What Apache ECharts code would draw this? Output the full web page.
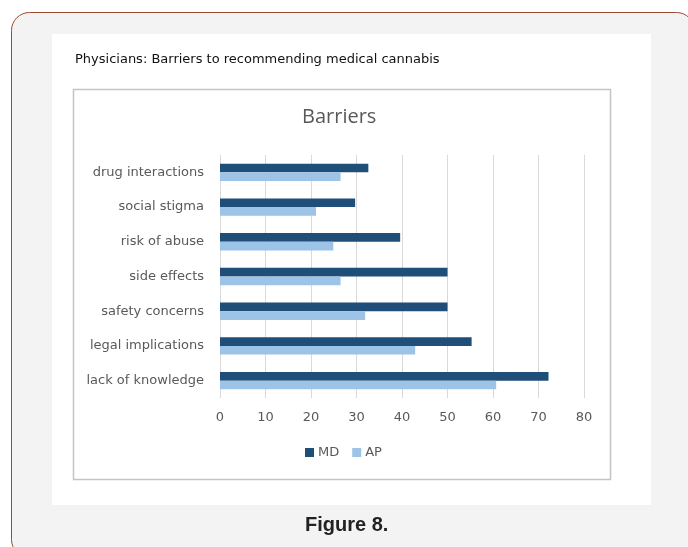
<!DOCTYPE html>
<html>
<head>
<meta charset="utf-8">
<script src="https://cdn.jsdelivr.net/npm/echarts@6/dist/echarts.min.js"></script>
<style>
  html, body { margin: 0; padding: 0; background: #ffffff; }
  #chart { width: 688px; height: 547px; }
</style>
</head>
<body>
<div id="chart"></div>
<script>
// Barriers to recommending medical cannabis (percent of respondents)
const categories = [
  'lack of knowledge',
  'legal implications',
  'safety concerns',
  'side effects',
  'risk of abuse',
  'social stigma',
  'drug interactions'
];
const mdValues = [72.2, 55.3, 50, 50, 39.6, 29.7, 32.6];
const apValues = [60.7, 42.9, 31.9, 26.5, 24.9, 21.1, 26.5];
const seriesNames = ['MD', 'AP'];
const xTicks = { min: 0, max: 80, step: 10 };

const labelFont = '"DejaVu Sans", "Open Sans", sans-serif';
const titleFont = '"Open Sans", "DejaVu Sans", sans-serif';

const chart = echarts.init(document.getElementById('chart'), null, { renderer: 'canvas' });

chart.setOption({
  animation: false,
  backgroundColor: '#ffffff',
  graphic: [
    {
      type: 'rect', z: -100, silent: true,
      shape: { x: 11.5, y: 12.5, width: 683, height: 545, r: 18 },
      style: { fill: '#f3f3f3', stroke: '#9e4b35', lineWidth: 1 }
    },
    {
      type: 'rect', z: -99, silent: true,
      shape: { x: 52, y: 34, width: 599, height: 471 },
      style: { fill: '#ffffff' }
    },
    {
      type: 'rect', z: -98, silent: true,
      shape: { x: 73.5, y: 89.5, width: 537, height: 390 },
      style: { fill: '#ffffff', stroke: '#c4c4c4', lineWidth: 1.5 }
    },
    {
      type: 'text', z: 10, silent: true,
      left: 75, top: 53,
      style: {
        text: 'Physicians: Barriers to recommending medical cannabis',
        fill: '#111111',
        font: '13px ' + labelFont
      }
    },
    {
      type: 'text', z: 10, silent: true,
      left: 305, top: 515,
      style: {
        text: 'Figure 8.',
        fill: '#222222',
        font: 'bold 20px "Liberation Sans", Arial, sans-serif'
      }
    }
  ],
  title: {
    text: 'Barriers',
    left: 302,
    top: 107,
    padding: 0,
    textStyle: {
      fontFamily: titleFont,
      fontSize: 20,
      fontWeight: 'normal',
      color: '#595959'
    }
  },
  legend: {
    data: seriesNames,
    left: 305,
    top: 446,
    padding: 0,
    icon: 'rect',
    itemWidth: 9,
    itemHeight: 9,
    itemGap: 13,
    textStyle: { fontFamily: labelFont, fontSize: 13, color: '#595959', padding: [0, 0, 0, -1] }
  },
  grid: {
    left: 220,
    right: 104,
    top: 155,
    bottom: 149,
    containLabel: false
  },
  xAxis: {
    type: 'value',
    min: xTicks.min,
    max: xTicks.max,
    interval: xTicks.step,
    axisLine: { show: false },
    axisTick: { show: false },
    splitLine: { show: true, lineStyle: { color: '#d9d9d9', width: 1 } },
    axisLabel: {
      margin: 13,
      fontFamily: labelFont,
      fontSize: 13,
      color: '#595959'
    }
  },
  yAxis: {
    type: 'category',
    data: categories,
    axisLine: { show: false },
    axisTick: { show: false },
    axisLabel: {
      margin: 16,
      fontFamily: labelFont,
      fontSize: 13,
      color: '#595959'
    }
  },
  series: [
    {
      name: seriesNames[0],
      type: 'bar',
      data: mdValues,
      barGap: '0%',
      barCategoryGap: '50%',
      itemStyle: { color: '#1f4e79' }
    },
    {
      name: seriesNames[1],
      type: 'bar',
      data: apValues,
      barGap: '0%',
      barCategoryGap: '50%',
      itemStyle: { color: '#9dc3e6' }
    }
  ]
});
</script>
</body>
</html>
